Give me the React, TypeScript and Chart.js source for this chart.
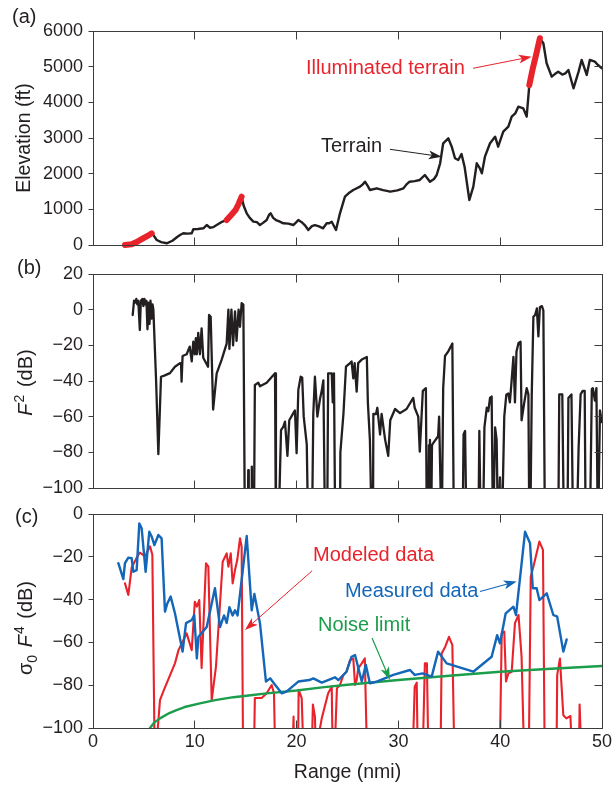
import React, { useEffect, useRef } from 'react';
import { Chart, registerables } from 'chart.js';

Chart.register(...registerables);

const FONT_FAMILY = '"Liberation Sans", Arial, Helvetica, sans-serif';
const INK = '#231f20';
const FRAME = '#3c3c3c';
const RED = '#e8232b';
const BLUE = '#1466b8';
const GREEN = '#1b9d4b';

// ---------- axis ticks ----------
const rangeTicks = [0, 10, 20, 30, 40, 50];
const elevationTicks = [0, 1000, 2000, 3000, 4000, 5000, 6000];
const f2Ticks = [-100, -80, -60, -40, -20, 0, 20];
const sigmaTicks = [-100, -80, -60, -40, -20, 0];

// ---------- (a) terrain profile: [range nmi, elevation ft] ----------
const terrain: [number, number][] = [
  [3.14, 0], [3.8, 20], [4.4, 100], [5.0, 200], [5.5, 280], [5.77, 328], [6.0, 250], [6.26, 140], [6.7, 80],
  [7.24, 48], [7.8, 120], [8.3, 230], [8.55, 280], [8.87, 328], [9.3, 320], [9.7, 328], [9.85, 440], [10.3, 450],
  [10.84, 468], [11.17, 560], [11.5, 485], [11.8, 500], [12.15, 560], [12.6, 640], [12.97, 680], [13.13, 700],
  [13.6, 850], [14.0, 980], [14.3, 1150], [14.6, 1355], [14.8, 1100], [15.1, 889], [15.4, 760], [15.75, 654],
  [16.1, 640], [16.4, 560], [16.7, 620], [17.06, 700], [17.3, 850], [17.45, 889], [17.7, 760], [17.97, 700],
  [18.3, 660], [18.7, 608], [19.2, 600], [19.68, 560], [20.0, 650], [20.17, 700], [20.5, 640], [20.8, 560],
  [21.15, 420], [21.5, 530], [21.8, 560], [22.2, 520], [22.6, 468], [22.96, 608], [23.2, 610], [23.45, 654],
  [23.87, 420], [24.26, 889], [24.75, 1355], [25.1, 1450], [25.57, 1542], [26.23, 1635], [26.5, 1700],
  [26.72, 1775], [27.0, 1650], [27.2, 1542], [27.87, 1590], [28.5, 1540], [29.2, 1495], [29.9, 1530],
  [30.5, 1590], [30.8, 1700], [31.1, 1775], [31.6, 1790], [32.1, 1823], [32.6, 1963], [33.1, 1775], [33.5, 1850],
  [33.76, 1963], [34.1, 2291], [34.4, 2852], [34.9, 2992], [35.24, 2757], [35.56, 2431], [35.88, 2384],
  [36.2, 2552], [36.5, 2196], [36.97, 1262], [37.36, 1635], [37.7, 2291], [38.0, 2150], [38.2, 2010],
  [38.5, 2476], [39.0, 2852], [39.5, 3037], [39.8, 2757], [40.3, 3177], [40.8, 3317], [41.13, 3598],
  [41.5, 3700], [41.78, 3878], [42.27, 3831], [42.6, 3598], [42.86, 4480], [43.2, 4950], [43.5, 5300],
  [43.9, 5796], [44.24, 5656], [44.56, 5095], [45.06, 4719], [45.4, 4800], [45.7, 4860], [46.1, 4780],
  [46.4, 4813], [46.7, 4907], [47.2, 4394], [47.7, 4860], [48.0, 5188], [48.5, 4767], [48.8, 5188],
  [49.3, 5141], [49.6, 5048], [50, 4954],
];
const illuminatedA: [number, number][] = [[3.14, 0], [3.8, 20], [4.4, 100], [5.0, 200], [5.5, 280], [5.77, 328]];
const illuminatedB: [number, number][] = [[13.13, 700], [13.6, 850], [14.0, 980], [14.3, 1150], [14.6, 1355]];
const illuminatedC: [number, number][] = [[42.86, 4480], [43.2, 4950], [43.5, 5300], [43.9, 5796]];

// ---------- (b) propagation factor F^2 (dB) ----------
const f2: [number, number][] = [
  [3.9, -3], [4.03, 5], [4.15, 4], [4.25, 6], [4.35, 3], [4.45, 5], [4.6, -11.4], [4.7, 5], [4.85, 6], [4.95, 2],
  [5.05, 6], [5.15, 3], [5.25, 5], [5.35, -11], [5.45, 4], [5.55, -8], [5.65, 5], [5.75, -5], [5.85, 3], [5.93, 0],
  [6.2, -40], [6.42, -81], [6.68, -37.6], [7.0, -37], [7.56, -35.6], [8.05, -32], [8.55, -30], [8.65, -30],
  [8.7, -40.4], [8.8, -26], [9.2, -25], [9.5, -20.7], [9.7, -29], [9.85, -18], [10.0, -25], [10.1, -16],
  [10.2, -25], [10.34, -13], [10.5, -25], [10.67, -10.5], [10.83, -27], [11.3, -32], [11.4, -3], [11.56, -4],
  [11.8, -56], [12.15, -35.7], [12.64, -28], [13.13, -19], [13.3, 0], [13.4, -22], [13.6, 0], [13.76, -20],
  [13.95, -1], [14.1, -17.5], [14.3, 0], [14.44, -9.6], [14.6, 3.6], [14.77, 2.8], [14.93, -130], [15.2, -130],
  [15.25, -90], [15.3, -130], [15.55, -130], [15.6, -88], [15.65, -130], [15.8, -130], [15.9, -42.2],
  [16.24, -41], [16.4, -43], [17.06, -41], [17.88, -35.7], [17.97, -130], [18.2, -130], [18.47, -67.5],
  [18.7, -65.6], [18.86, -62.8], [19.1, -82], [19.28, -62], [19.68, -58], [19.84, -56.5], [20.0, -80.5],
  [20.17, -45], [20.4, -37.6], [20.55, -38], [20.7, -60], [21.0, -75.7], [21.15, -130], [21.5, -130],
  [21.64, -58.5], [21.8, -37.6], [22.04, -60], [22.3, -50], [22.47, -45.5], [22.63, -39.6], [22.8, -130],
  [23.0, -130], [23.1, -35.7], [23.45, -35.7], [23.55, -52], [23.67, -35.7], [23.8, -130], [24.26, -130],
  [24.3, -80], [24.6, -58.5], [24.85, -32], [25.25, -30], [25.4, -29], [25.57, -38.5], [25.7, -30], [25.9, -46],
  [26.05, -30], [26.4, -28], [26.9, -26.5], [27.0, -52], [27.2, -73], [27.4, -130], [27.5, -130], [27.54, -58.5],
  [27.8, -58.5], [27.93, -55], [28.2, -70], [28.35, -58.5], [28.7, -73], [29.0, -82], [29.2, -62], [29.67, -55.7],
  [30.16, -58], [30.8, -55.7], [31.46, -49.5], [31.6, -55], [31.95, -60], [32.1, -79.6], [32.4, -45.5],
  [32.7, -44], [32.8, -130], [32.9, -130], [33.0, -76], [33.05, -130], [33.1, -73], [33.2, -130], [33.3, -76],
  [33.4, -75], [33.9, -71], [34.0, -60], [34.25, -130], [34.4, -44], [34.58, -26], [34.9, -23.4], [35.3, -19],
  [35.46, -130], [36.3, -130], [36.4, -70], [36.55, -68], [36.7, -130], [37.85, -130], [37.95, -68],
  [38.1, -130], [38.3, -130], [38.45, -66], [38.68, -55], [38.83, -57], [39.0, -49.5], [39.16, -48.7],
  [39.3, -130], [39.5, -66], [39.65, -73], [39.8, -130], [39.98, -94], [40.15, -130], [40.3, -88], [40.4, -60],
  [40.6, -47.7], [40.8, -47], [40.95, -52], [41.1, -41.5], [41.3, -26.5], [41.45, -52], [41.6, -23.4],
  [41.8, -18.7], [42.0, -18], [42.1, -62], [42.34, -53], [42.6, -44], [42.77, -47.5], [42.87, -130],
  [43.0, -100], [43.1, -47.5], [43.26, -4], [43.43, -3], [43.6, 0.7], [43.75, -15], [43.9, 1.5], [44.1, 2],
  [44.24, -0.5], [44.4, -130], [45.7, -130], [45.8, -47.5], [46.1, -47.5], [46.27, -130], [46.6, -130],
  [46.7, -49.5], [47.0, -47.5], [47.17, -130], [47.5, -130], [47.7, -78], [47.9, -47.5], [48.1, -45.5],
  [48.3, -45.5], [48.4, -130], [48.8, -130], [49.0, -44.5], [49.1, -44], [49.3, -51], [49.45, -44],
  [49.6, -130], [49.8, -56.5], [49.98, -63],
];

// ---------- (c) sigma0 F^4 (dB) ----------
const measured: [number, number][] = [
  [2.49, -23], [2.98, -30.4], [3.14, -23], [3.47, -20.4], [3.8, -20.7], [3.96, -27], [4.29, -26.2], [4.55, -4.4],
  [4.78, -6.7], [5.17, -27], [5.53, -8.3], [5.76, -10.5], [6.03, -14.5], [6.42, -9.8], [6.74, -11.4], [7.07, -45.6],
  [7.3, -41.8], [7.63, -38.6], [8.05, -46.4], [8.8, -64.3], [9.14, -51], [9.7, -49.5], [9.95, -47.2], [10.2, -67.5],
  [10.35, -57.5], [11.17, -52.8], [11.98, -34.7], [12.48, -52.8], [12.87, -47.4], [13.13, -50.9], [13.4, -43.6],
  [13.72, -47.4], [13.95, -45], [14.2, -47.4], [15.1, -10.3], [15.59, -45], [15.85, -37.4], [16.4, -51],
  [16.99, -78.3], [17.4, -76.8], [17.9, -79.9], [18.54, -83.8], [19.0, -83], [20.17, -78.3], [21.25, -77.6],
  [21.64, -76.8], [22.47, -78.8], [23.77, -76.3], [24.1, -77.6], [24.9, -73.7], [25.4, -66.7], [25.74, -65.9],
  [26.4, -78.3], [26.8, -70.5], [27.2, -79.1], [27.87, -78.3], [29.5, -75.2], [31.14, -72.9], [31.6, -75.2],
  [32.4, -74.5], [33.27, -76], [33.9, -64.3], [34.74, -69.8], [37.36, -73.7], [39.16, -66.7], [39.7, -56.6],
  [39.98, -60.4], [40.54, -46.4], [41.3, -43.3], [41.55, -47.2], [42.44, -8.3], [42.93, -13.7], [43.2, -34.7],
  [43.58, -34.7], [43.85, -40.2], [44.57, -37.1], [45.22, -47.2], [45.6, -48], [46.2, -64.3], [46.53, -58.6],
];
const modeled: [number, number][] = [
  [3.14, -32.4], [3.47, -37.8], [3.8, -25], [4.29, -20.4], [4.6, -18], [5.1, -19.8], [5.6, -15.1], [5.83, -19],
  [6.1, -130], [6.3, -104], [6.58, -87], [6.9, -83], [8.05, -69.8], [8.4, -63.6], [9.2, -55.8], [9.7, -63.6],
  [10.0, -41], [10.2, -43.3], [10.44, -40.2], [10.67, -72], [11.1, -23], [11.33, -24.6], [11.66, -87],
  [12.08, -71.3], [12.74, -22.3], [13.13, -18.4], [13.3, -24.6], [13.53, -18.4], [13.72, -32.4], [13.95, -26.2],
  [14.17, -21.5], [14.44, -11.4], [14.6, -15.3], [14.77, -130], [15.75, -130], [15.9, -86], [16.57, -86],
  [17.06, -83.8], [17.55, -79.9], [17.78, -83.8], [17.97, -130], [19.5, -130], [19.7, -94.7], [19.8, -130],
  [20.1, -130], [20.2, -82.2], [20.5, -86], [20.8, -130], [21.4, -130], [21.6, -89], [21.8, -94.7], [22.0, -130],
  [22.3, -100], [22.47, -95.5], [23.1, -83.8], [23.45, -80.7], [23.6, -130], [23.96, -81.5], [24.26, -79.9],
  [24.6, -75.2], [24.9, -73.7], [25.25, -68.3], [25.57, -67.5], [25.74, -79.9], [25.9, -77.6], [26.05, -72.1],
  [26.4, -69.8], [26.7, -67.5], [27.0, -130], [31.3, -130], [31.6, -80.7], [31.8, -78.8], [31.95, -130],
  [32.3, -130], [32.6, -69.8], [32.8, -69.8], [33.0, -130], [34.1, -130], [34.25, -65.2], [34.6, -62],
  [34.97, -57.4], [35.3, -61.3], [35.56, -130], [39.9, -130], [40.15, -55.8], [40.4, -55], [40.57, -78.3],
  [40.8, -74.5], [41.13, -73.7], [41.45, -51], [41.8, -47.2], [42.1, -66.7], [42.44, -130], [42.77, -130],
  [43.0, -29.3], [43.26, -24.6], [43.85, -12.9], [44.2, -16.8], [44.4, -130], [45.5, -130], [45.6, -75.2],
  [45.87, -67.5], [46.0, -78.3], [46.2, -94], [46.5, -95.5], [46.9, -94.4], [47.2, -130], [47.7, -130],
  [47.8, -89], [48.1, -130],
];
const noiseLimit: [number, number][] = [
  [5.6, -100], [6.0, -97.5], [6.58, -95.5], [7.5, -93], [8.2, -91.6], [9.0, -90.2], [10.5, -88.5], [12.0, -87],
  [13.8, -85.6], [15.5, -84.7], [17.06, -83.8], [20.0, -82.5], [22.5, -81], [25.0, -79.8], [30.0, -77.6],
  [35.0, -75.6], [40.0, -73.7], [45.0, -72.3], [50.0, -71],
];

// ---------- annotations (in data coordinates) ----------
type Note = { text: string; color: string; x: number; y: number; from: [number, number]; to: [number, number]; lw: number };
const notesA: Note[] = [
  { text: 'Illuminated terrain', color: RED, x: 20.92, y: 4949, from: [37.33, 4955], to: [43.09, 5280], lw: 1 },
  { text: 'Terrain', color: INK, x: 22.4, y: 2756, from: [29.17, 2683], to: [34.25, 2476], lw: 1 },
];
const notesC: Note[] = [
  { text: 'Modeled data', color: RED, x: 21.61, y: -19.4, from: [21.51, -26.6], to: [14.93, -54.2], lw: 1 },
  { text: 'Measured data', color: BLUE, x: 24.75, y: -36.0, from: [38.02, -36.2], to: [41.62, -31.5], lw: 1.2 },
  { text: 'Noise limit', color: GREEN, x: 22.1, y: -52.3, from: [27.41, -57.9], to: [29.17, -77.6], lw: 1.2 },
];

type Seg = { t: string; size: number; italic?: boolean; dy?: number; gap?: number };
const titleB: Seg[] = [
  { t: 'F', size: 20, italic: true, gap: 1 },
  { t: '2', size: 14, dy: -8, gap: 2 },
  { t: ' (dB)', size: 20 },
];
const titleC: Seg[] = [
  { t: 'σ', size: 20 },
  { t: '0', size: 14, dy: 5, gap: 2 },
  { t: ' ', size: 20 },
  { t: 'F', size: 20, italic: true, gap: 1 },
  { t: '4', size: 14, dy: -8, gap: 2 },
  { t: ' (dB)', size: 20 },
];

const pts = (a: [number, number][]) => a.map(([x, y]) => ({ x, y }));
const fmtTick = (v: number | string) => {
  const n = Number(v);
  return n < 0 ? '\u2212' + Math.abs(n) : String(n);
};

function drawArrow(ctx: CanvasRenderingContext2D, x1: number, y1: number, x2: number, y2: number, color: string, lw: number) {
  const ang = Math.atan2(y2 - y1, x2 - x1);
  const len = 13, half = 4.5;
  const c = Math.cos(ang), s = Math.sin(ang);
  const bx = x2 - len * c, by = y2 - len * s;
  const nx = x2 - len * 0.75 * c, ny = y2 - len * 0.75 * s;
  ctx.strokeStyle = color;
  ctx.lineWidth = lw;
  ctx.beginPath();
  ctx.moveTo(x1, y1);
  ctx.lineTo(nx, ny);
  ctx.stroke();
  ctx.fillStyle = color;
  ctx.beginPath();
  ctx.moveTo(x2, y2);
  ctx.lineTo(bx - half * s, by + half * c);
  ctx.lineTo(nx, ny);
  ctx.lineTo(bx + half * s, by - half * c);
  ctx.closePath();
  ctx.fill();
}

function drawRich(ctx: CanvasRenderingContext2D, segs: Seg[], cx: number, cy: number) {
  const fontOf = (s: Seg) => `${s.italic ? 'italic ' : ''}${s.size}px ${FONT_FAMILY}`;
  ctx.save();
  ctx.translate(cx, cy);
  ctx.rotate(-Math.PI / 2);
  ctx.textAlign = 'left';
  ctx.textBaseline = 'alphabetic';
  ctx.fillStyle = INK;
  const widths = segs.map((s) => {
    ctx.font = fontOf(s);
    return ctx.measureText(s.t).width + (s.gap || 0);
  });
  const total = widths.reduce((a, b) => a + b, 0);
  let x = -total / 2;
  segs.forEach((s, i) => {
    ctx.font = fontOf(s);
    ctx.fillText(s.t, x, 7 + (s.dy || 0));
    x += widths[i];
  });
  ctx.restore();
}

type PanelCfg = {
  yTicks: number[];
  label: string;
  labelX: number;
  labelY: number;
  title?: Seg[];
  titleShift?: number;
  notes?: Note[];
};

function decorPlugin(cfg: PanelCfg) {
  return {
    id: 'panelDecor',
    afterDraw(chart: any) {
      const { ctx, chartArea: a } = chart;
      const xs = chart.scales.x;
      const ys = chart.scales.y;
      ctx.save();
      ctx.strokeStyle = FRAME;
      ctx.lineWidth = 1;
      const L = Math.floor(a.left) + 0.5, R = Math.floor(a.right) + 0.5;
      const T = Math.floor(a.top) + 0.5, B = Math.floor(a.bottom) + 0.5;
      ctx.beginPath();
      rangeTicks.slice(1, -1).forEach((v) => {
        const px = Math.floor(xs.getPixelForValue(v)) + 0.5;
        ctx.moveTo(px, B); ctx.lineTo(px, B - 8);
        ctx.moveTo(px, T); ctx.lineTo(px, T + 8);
      });
      cfg.yTicks.forEach((v) => {
        const py = Math.floor(ys.getPixelForValue(v)) + 0.5;
        ctx.moveTo(R, py); ctx.lineTo(R - 8, py);
        ctx.moveTo(L, py); ctx.lineTo(L - 5, py);
      });
      ctx.stroke();
      ctx.strokeRect(L, T, R - L, B - T);

      ctx.fillStyle = INK;
      ctx.font = `20px ${FONT_FAMILY}`;
      ctx.textAlign = 'left';
      ctx.textBaseline = 'middle';
      ctx.fillText(cfg.label, cfg.labelX, cfg.labelY);

      if (cfg.title) drawRich(ctx, cfg.title, 25, (a.top + a.bottom) / 2 + (cfg.titleShift || 0));

      (cfg.notes || []).forEach((n) => {
        ctx.fillStyle = n.color;
        ctx.font = `20px ${FONT_FAMILY}`;
        ctx.textAlign = 'left';
        ctx.textBaseline = 'middle';
        ctx.fillText(n.text, xs.getPixelForValue(n.x), ys.getPixelForValue(n.y));
        drawArrow(ctx, xs.getPixelForValue(n.from[0]), ys.getPixelForValue(n.from[1]),
          xs.getPixelForValue(n.to[0]), ys.getPixelForValue(n.to[1]), n.color, n.lw);
      });
      ctx.restore();
    },
  };
}

const tickFont = { family: FONT_FAMILY, size: 18 };

function makeOptions(p: {
  padTop: number; xHeight: number; showX: boolean; yMin: number; yMax: number; yTicks: number[]; yTitle?: string;
}) {
  return {
    animation: false as const,
    responsive: false,
    events: [] as any[],
    layout: { padding: { left: 0, right: 11, top: p.padTop, bottom: 0 } },
    plugins: { legend: { display: false }, tooltip: { enabled: false } },
    elements: { point: { radius: 0 }, line: { tension: 0, borderJoinStyle: 'round' as const, borderCapStyle: 'round' as const } },
    scales: {
      x: {
        type: 'linear' as const,
        min: 0,
        max: 50,
        afterBuildTicks: (s: any) => { s.ticks = rangeTicks.map((v) => ({ value: v })); },
        grid: { display: false, drawTicks: false },
        border: { display: false },
        ticks: { display: p.showX, font: tickFont, color: INK, padding: 3, maxRotation: 0, autoSkip: false, callback: fmtTick },
        title: {
          display: p.showX,
          text: 'Range (nmi)',
          font: { family: FONT_FAMILY, size: 19.5 },
          color: INK,
          padding: { top: 4, bottom: 3 },
        },
        afterFit: (s: any) => { s.height = p.xHeight; s.paddingLeft = 0; s.paddingRight = 0; },
      },
      y: {
        type: 'linear' as const,
        min: p.yMin,
        max: p.yMax,
        afterBuildTicks: (s: any) => { s.ticks = p.yTicks.map((v) => ({ value: v })); },
        grid: { display: false, drawTicks: false },
        border: { display: false },
        ticks: { font: tickFont, color: INK, padding: 10, autoSkip: false, callback: fmtTick },
        title: {
          display: !!p.yTitle,
          text: p.yTitle || '',
          font: { family: FONT_FAMILY, size: 19.5 },
          color: INK,
          padding: { top: 13, bottom: 0 },
        },
        afterFit: (s: any) => { s.width = 93; s.paddingTop = 0; s.paddingBottom = 0; },
      },
    },
  };
}

function buildA(): any {
  return {
    type: 'line',
    data: {
      datasets: [
        { data: pts(illuminatedA), borderColor: RED, borderWidth: 6, order: 0, clip: 6 },
        { data: pts(illuminatedB), borderColor: RED, borderWidth: 6, order: 0, clip: 6 },
        { data: pts(illuminatedC), borderColor: RED, borderWidth: 6, order: 0, clip: 6 },
        { data: pts(terrain), borderColor: INK, borderWidth: 2.4, order: 1 },
      ],
    },
    options: makeOptions({ padTop: 31, xHeight: 13, showX: false, yMin: 0, yMax: 6000, yTicks: elevationTicks, yTitle: 'Elevation (ft)' }),
    plugins: [decorPlugin({ yTicks: elevationTicks, label: '(a)', labelX: 12, labelY: 17.5, notes: notesA })],
  };
}

function buildB(): any {
  return {
    type: 'line',
    data: { datasets: [{ data: pts(f2), borderColor: INK, borderWidth: 2.3 }] },
    options: makeOptions({ padTop: 16, xHeight: 14, showX: false, yMin: -100, yMax: 20, yTicks: f2Ticks }),
    plugins: [decorPlugin({ yTicks: f2Ticks, label: '(b)', labelX: 17, labelY: 10, title: titleB, titleShift: 1.5 })],
  };
}

function buildC(): any {
  return {
    type: 'line',
    data: {
      datasets: [
        { data: pts(measured), borderColor: BLUE, borderWidth: 2.4, order: 0 },
        { data: pts(noiseLimit), borderColor: GREEN, borderWidth: 2.4, order: 1 },
        { data: pts(modeled), borderColor: RED, borderWidth: 2.1, order: 2 },
      ],
    },
    options: makeOptions({ padTop: 12, xHeight: 59, showX: true, yMin: -100, yMax: 0, yTicks: sigmaTicks }),
    plugins: [decorPlugin({ yTicks: sigmaTicks, label: '(c)', labelX: 15, labelY: 15, title: titleC, titleShift: 7, notes: notesC })],
  };
}

export default function App() {
  const refA = useRef<HTMLCanvasElement>(null);
  const refB = useRef<HTMLCanvasElement>(null);
  const refC = useRef<HTMLCanvasElement>(null);

  useEffect(() => {
    const charts = [
      new Chart(refA.current as HTMLCanvasElement, buildA()),
      new Chart(refB.current as HTMLCanvasElement, buildB()),
      new Chart(refC.current as HTMLCanvasElement, buildC()),
    ];
    return () => charts.forEach((c) => c.destroy());
  }, []);

  const cs = (top: number, h: number): React.CSSProperties => ({ position: 'absolute', left: 0, top, width: 613, height: h });
  return (
    <div style={{ position: 'absolute', left: 0, top: 0, width: 613, height: 787, background: '#fff' }}>
      <canvas ref={refA} width={613} height={258} style={cs(0, 258)} />
      <canvas ref={refB} width={613} height={244} style={cs(258, 244)} />
      <canvas ref={refC} width={613} height={285} style={cs(502, 285)} />
    </div>
  );
}
